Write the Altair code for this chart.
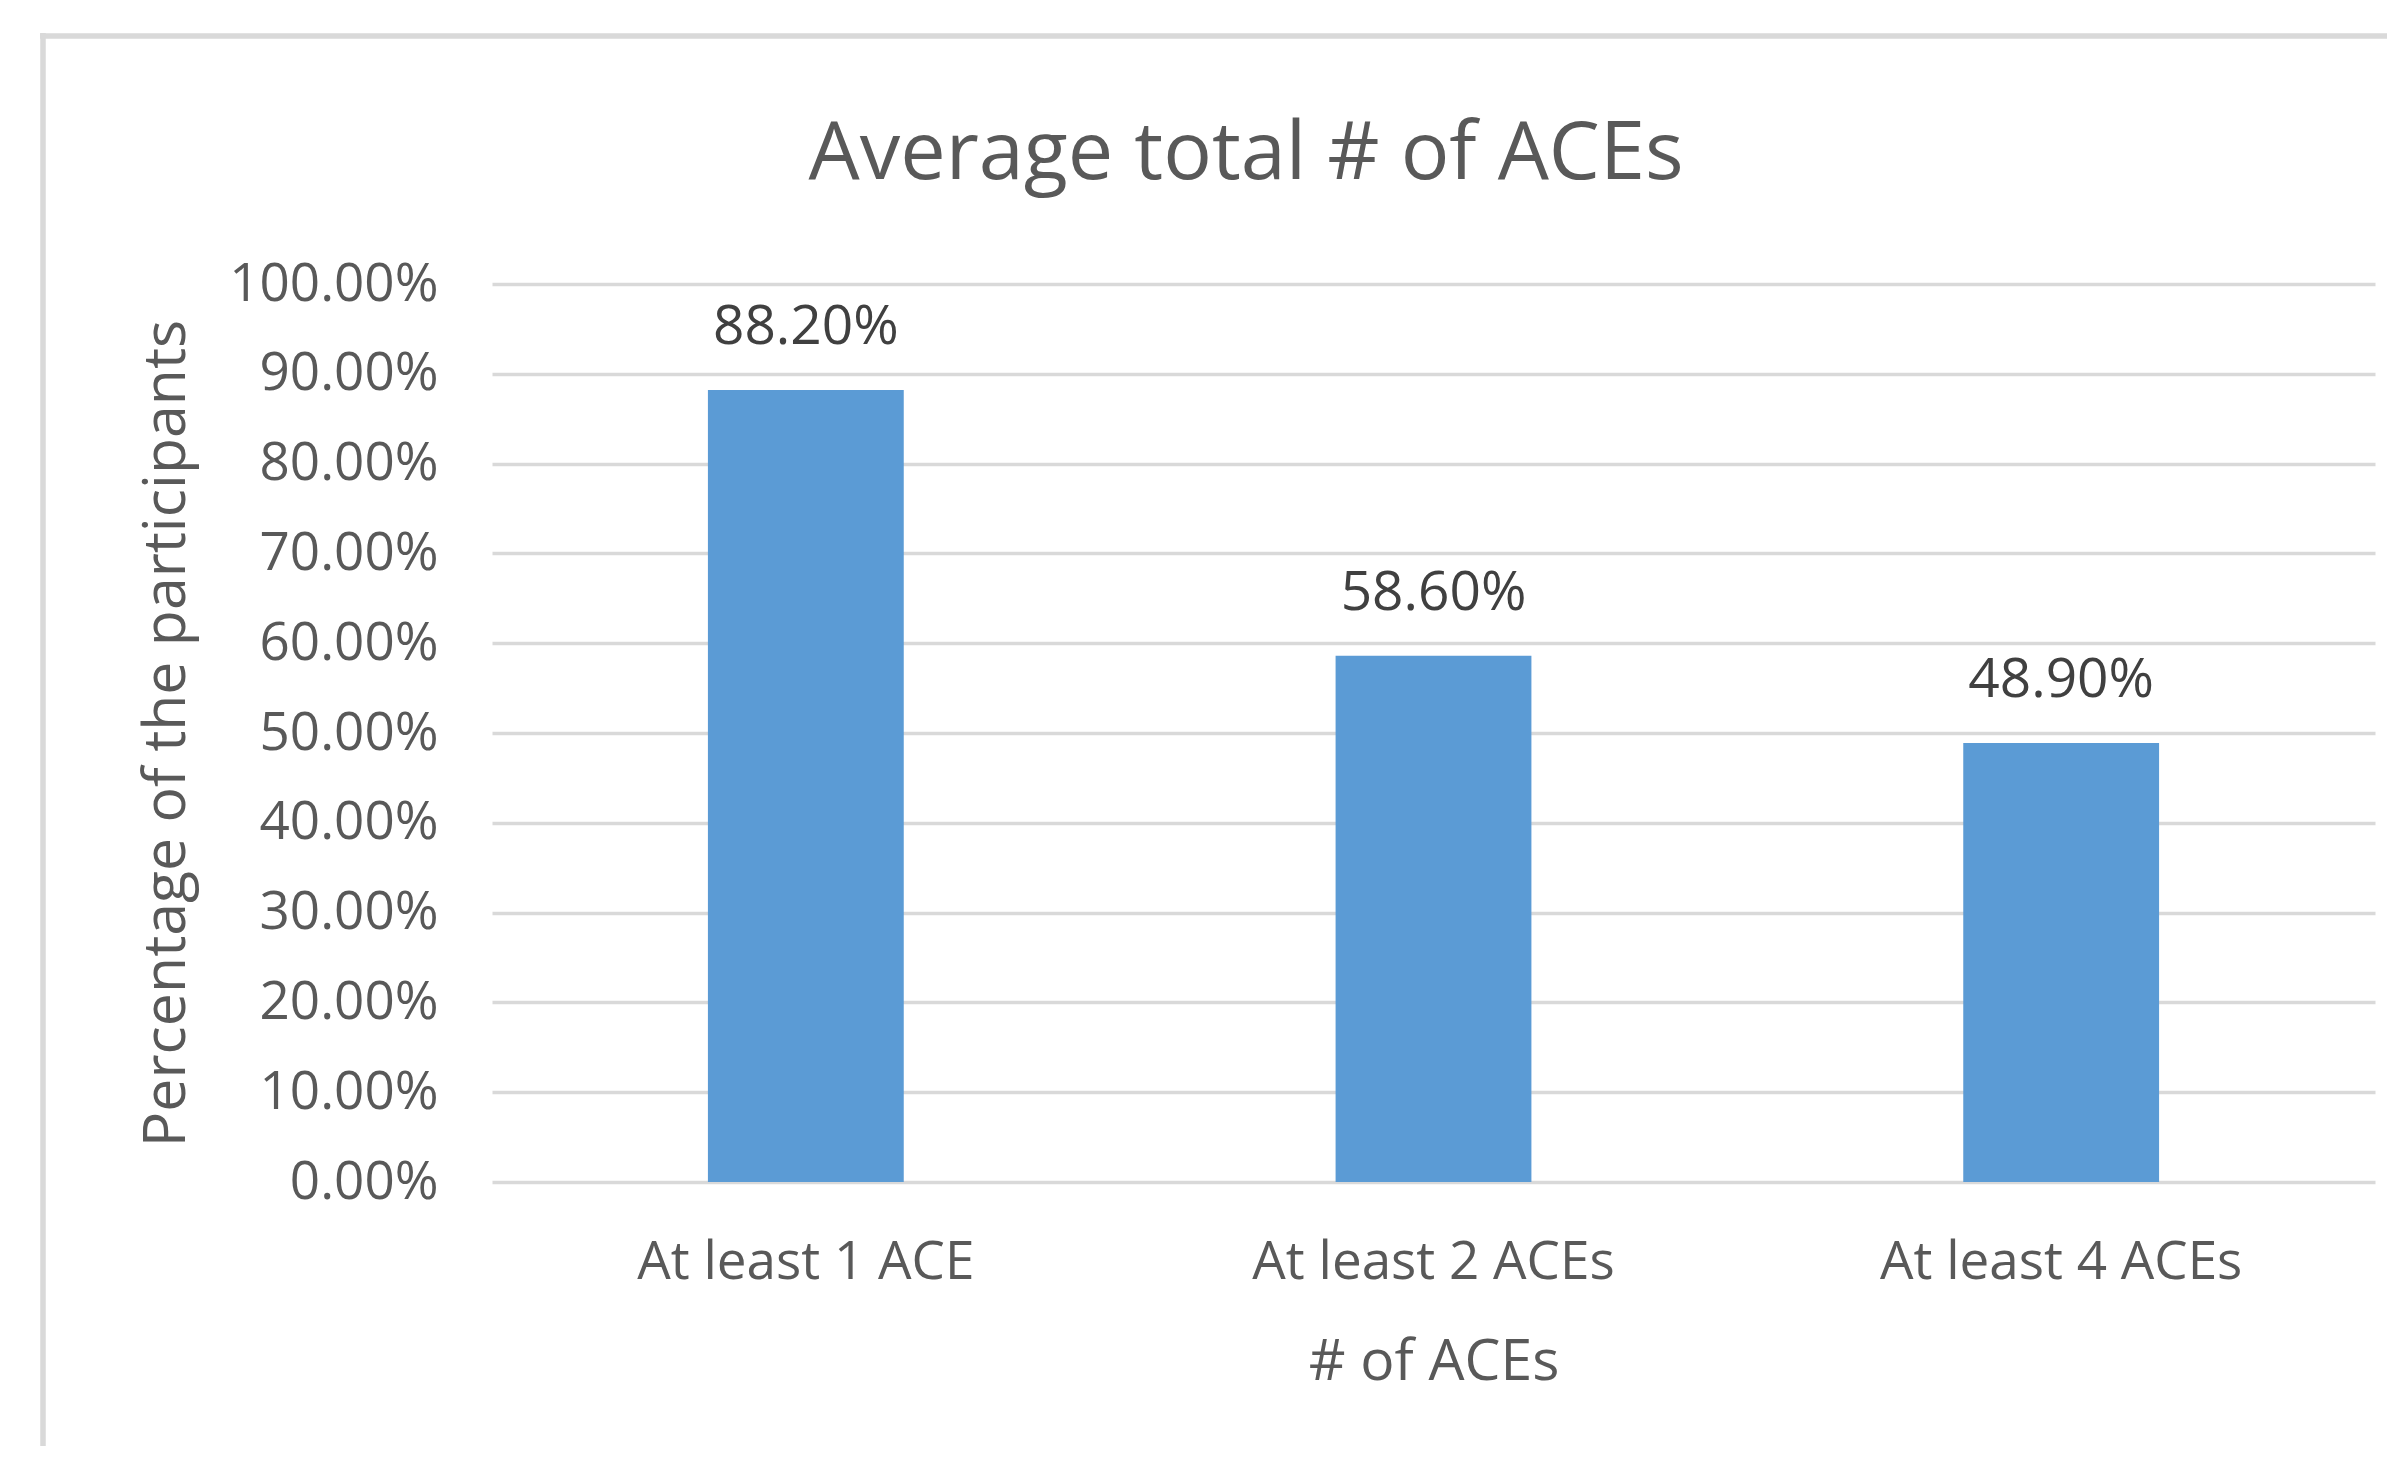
import altair as alt
import pandas as pd

categories = ["At least 1 ACE", "At least 2 ACEs", "At least 4 ACEs"]
values = [0.882, 0.586, 0.489]
y_ticks = [0.0, 0.1, 0.2, 0.3, 0.4, 0.5, 0.6, 0.7, 0.8, 0.9, 1.0]
chart_title = "Average total # of ACEs"
x_title = "# of ACEs"
y_title = "Percentage of the participants"

FONT = "Open Sans"
GRAY = "#595959"
DARK = "#404040"
LINE = "#d9d9d9"
BAR = "#5b9bd5"

df = pd.DataFrame({"cat": categories, "value": values})
one = pd.DataFrame({"t": [chart_title]})

x_enc = alt.X(
    "cat:N",
    sort=categories,
    scale=alt.Scale(paddingInner=0.688, paddingOuter=0.344),
    axis=alt.Axis(
        title=x_title,
        labelAngle=0,
        labelFontSize=53,
        labelFont=FONT,
        labelColor=GRAY,
        labelPadding=54,
        labelLimit=1000,
        ticks=False,
        tickSize=0,
        domain=False,
        grid=False,
        titleFont=FONT,
        titleFontSize=57,
        titleFontWeight="normal",
        titleColor=GRAY,
        titlePadding=45,
    ),
)
y_enc = alt.Y(
    "value:Q",
    scale=alt.Scale(domain=[0, 1]),
    axis=alt.Axis(
        title=y_title,
        values=y_ticks,
        format=".2%",
        labelFontSize=53,
        labelFont=FONT,
        labelColor=GRAY,
        labelPadding=54,
        labelLimit=1000,
        minExtent=260,
        maxExtent=260,
        ticks=False,
        tickSize=0,
        domain=False,
        grid=True,
        gridColor=LINE,
        gridWidth=3.5,
        titleFont=FONT,
        titleFontSize=59,
        titleFontWeight="normal",
        titleColor=GRAY,
        titlePadding=36,
    ),
)

bars = alt.Chart(df).mark_bar(color=BAR).encode(x=x_enc, y=y_enc)

labels = alt.Chart(df).mark_text(
    baseline="alphabetic", dy=-46, fontSize=55, font=FONT, color=DARK
).encode(
    x=alt.X("cat:N", sort=categories),
    y="value:Q",
    text=alt.Text("value:Q", format=".2%"),
)

title_mark = alt.Chart(one).mark_text(
    align="center", baseline="alphabetic", fontSize=81, font=FONT, color=GRAY
).encode(x=alt.value(754), y=alt.value(-105), text="t:N")

border_left = alt.Chart(one).mark_rule(color=LINE, strokeWidth=5.5).encode(
    x=alt.value(-449), y=alt.value(-251), y2=alt.value(1170)
)
border_top = alt.Chart(one).mark_rule(color=LINE, strokeWidth=5.5).encode(
    x=alt.value(-452), x2=alt.value(1895), y=alt.value(-248)
)

chart = (
    alt.layer(border_left, border_top, bars, labels, title_mark)
    .properties(
        width=1883,
        height=898,
        autosize=alt.AutoSizeParams(type="none"),
        padding={"left": 484, "top": 276, "right": 12, "bottom": 264},
        background="white",
    )
    .configure_view(stroke=None)
)

chart.save("out.html", embed_options={"renderer": "svg", "actions": False})
